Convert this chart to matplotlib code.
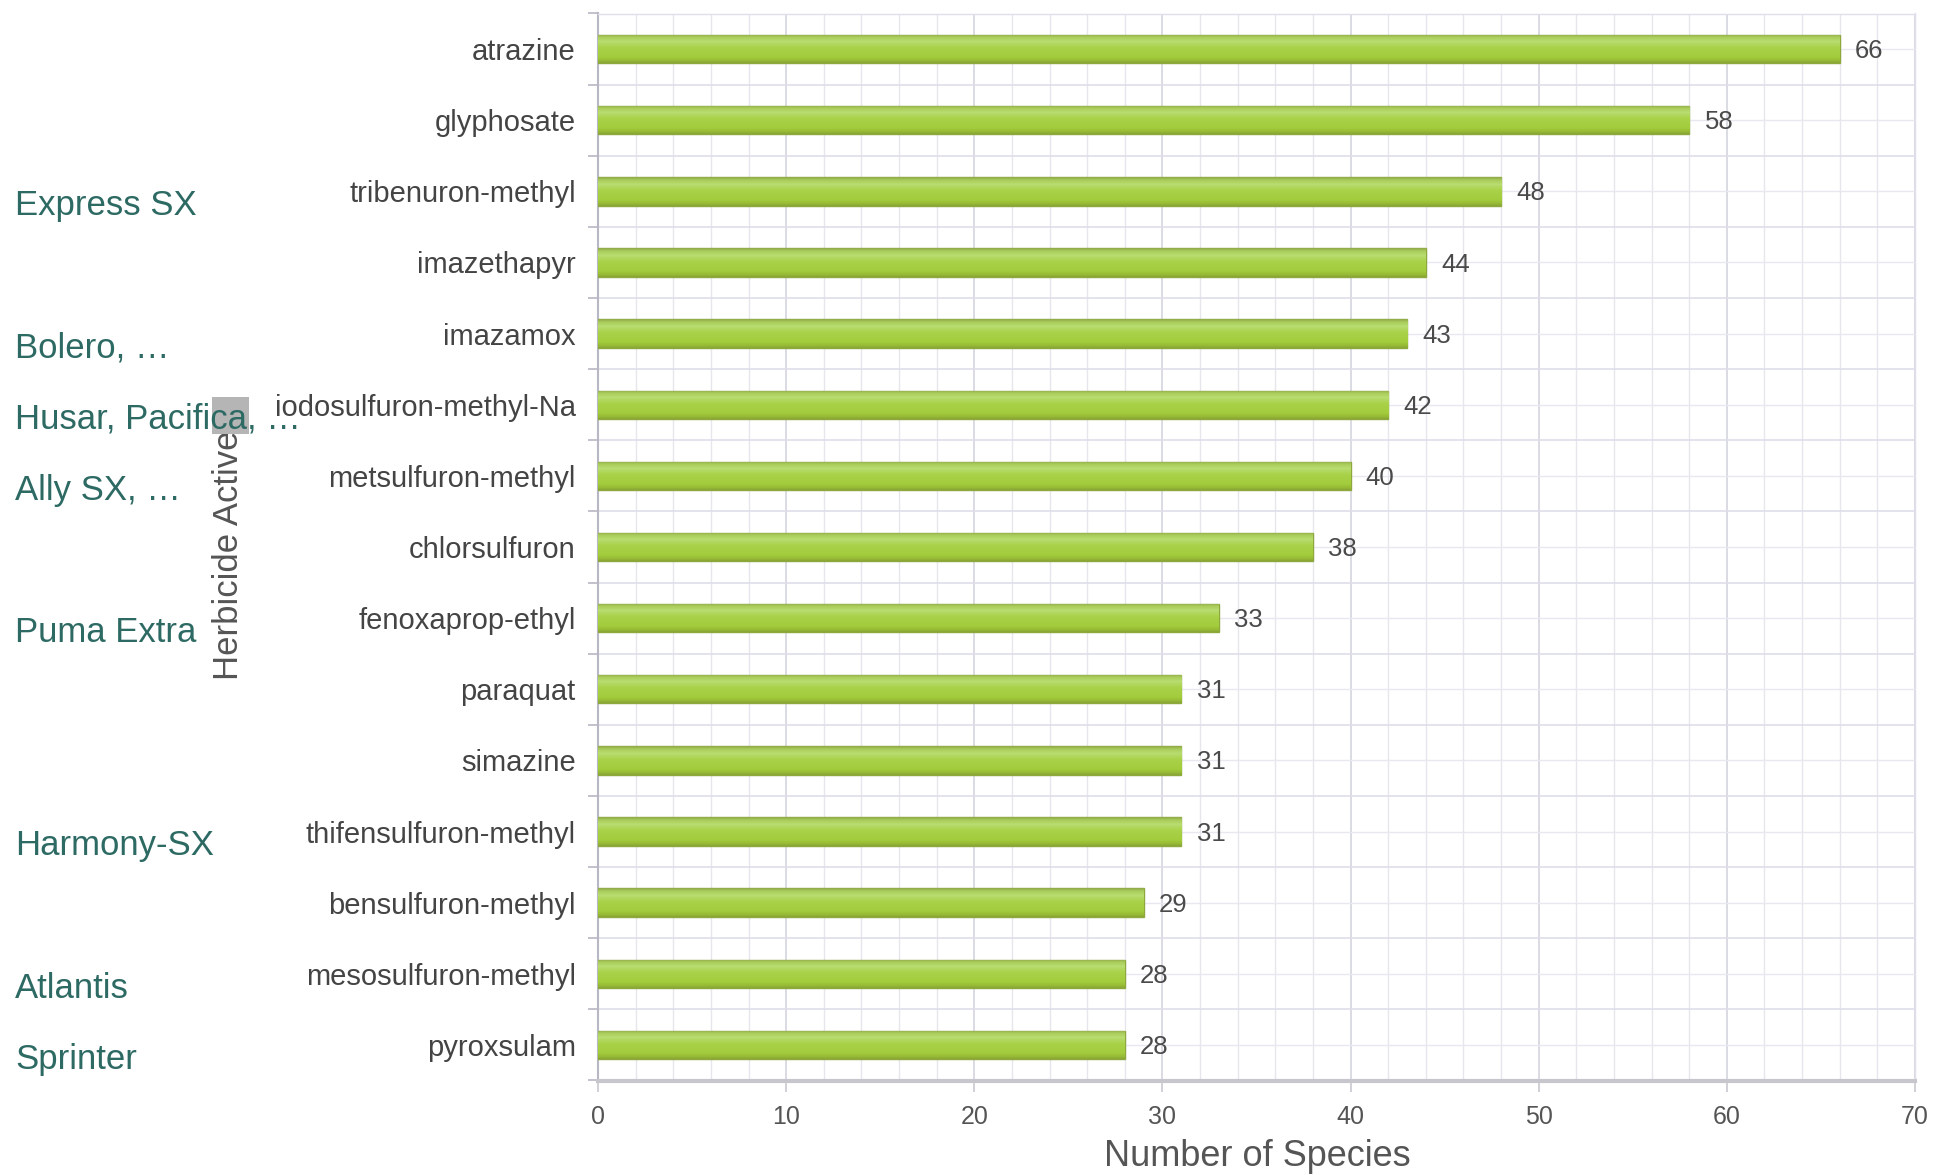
import matplotlib
matplotlib.use("Agg")
import matplotlib.pyplot as plt
import matplotlib.transforms as mtransforms
from matplotlib.colors import LinearSegmentedColormap
from matplotlib.patches import Rectangle
import numpy as np

plt.rcParams['font.family'] = ['Liberation Sans', 'DejaVu Sans']

# ---- data ----
herbicides = ["atrazine", "glyphosate", "tribenuron-methyl", "imazethapyr",
              "imazamox", "iodosulfuron-methyl-Na", "metsulfuron-methyl",
              "chlorsulfuron", "fenoxaprop-ethyl", "paraquat", "simazine",
              "thifensulfuron-methyl", "bensulfuron-methyl",
              "mesosulfuron-methyl", "pyroxsulam"]
species = [66, 58, 48, 44, 43, 42, 40, 38, 33, 31, 31, 31, 29, 28, 28]
x_ticks = [0, 10, 20, 30, 40, 50, 60, 70]

products = ["Express SX", "Bolero, \u2026", "Husar, Pacifica, \u2026", "Ally SX, \u2026",
            "Puma Extra", "Harmony-SX", "Atlantis", "Sprinter"]
product_for = ["tribenuron-methyl", "imazamox", "iodosulfuron-methyl-Na",
               "metsulfuron-methyl", "fenoxaprop-ethyl", "thifensulfuron-methyl",
               "mesosulfuron-methyl", "pyroxsulam"]

x_label = "Number of Species"
y_label = "Herbicide Active"

# ---- figure ----
W, H = 1935, 1175
fig = plt.figure(figsize=(W / 100, H / 100), dpi=100)
ax = fig.add_axes([598 / W, 1 - 1080.5 / H, (1915 - 598) / W, (1080.5 - 13.5) / H])

ypos = np.arange(len(herbicides))
bar_h = 0.4

grad_colors = [(0.00, "#90aa48"), (0.10, "#a9cc5a"), (0.25, "#badd72"),
               (0.45, "#aad24a"), (0.80, "#a2cc3c"), (0.92, "#97bb36"),
               (1.00, "#88a636")]
cmap = LinearSegmentedColormap.from_list("bargrad", grad_colors)
grad = np.linspace(0, 1, 64).reshape(-1, 1)

bars = ax.barh(ypos, species, height=bar_h, color="#a5ce42",
               edgecolor="#8ea83e", linewidth=1.0, zorder=3)
for b, yv, v in zip(bars, ypos, species):
    im = ax.imshow(grad, cmap=cmap, aspect="auto", origin="upper",
                   extent=(0, v, yv + bar_h / 2, yv - bar_h / 2),
                   zorder=3.5, interpolation="bilinear")
    im.set_clip_path(b)

for yv, v in zip(ypos, species):
    ax.annotate(str(v), xy=(v, yv), xytext=(11, -1.5), textcoords="offset points",
                ha="left", va="center", fontsize=18.5, color="#4a4a4a", zorder=5)

ax.set_xlim(0, 70)
ax.set_ylim(len(herbicides) - 0.5, -0.5)

# grid
ax.set_xticks(x_ticks)
ax.set_xticks(np.arange(0, 71, 2), minor=True)
ax.set_yticks(ypos)
ax.set_yticks(np.arange(-0.5, len(herbicides), 1.0), minor=True)
ax.set_yticklabels(herbicides, fontsize=21, color="#444444")
ax.set_xticklabels([str(t) for t in x_ticks], fontsize=18, color="#555555")
ax.set_axisbelow(True)
ax.grid(axis="x", which="minor", color="#e6e6ee", linewidth=1.0, zorder=0)
ax.grid(axis="x", which="major", color="#d3d4de", linewidth=1.2, zorder=0)
ax.grid(axis="y", which="major", color="#e8e8f0", linewidth=1.0, zorder=0)
ax.grid(axis="y", which="minor", color="#dedeea", linewidth=1.2, zorder=0)

ax.tick_params(axis="y", which="major", length=0, pad=16)
ax.tick_params(axis="y", which="minor", length=7, color="#b8b8c4", width=1.2)
ax.tick_params(axis="x", which="major", length=8, color="#c8c8d0", width=1.2, pad=10)
ax.tick_params(axis="x", which="minor", length=0)

for side in ["top", "right"]:
    ax.spines[side].set_color("#dfe0ec")
    ax.spines[side].set_linewidth(1.0)
ax.spines["left"].set_color("#b8b8c4")
ax.spines["left"].set_linewidth(1.5)
ax.spines["bottom"].set_color("#c6c6cc")
ax.spines["bottom"].set_linewidth(3.0)

fig.text(1257 / W, 1 - 1156 / H, x_label, ha="center", va="center",
         fontsize=26, color="#555555")
fig.text(228 / W, 1 - 555 / H, y_label, ha="center", va="center",
         rotation=90, fontsize=25, color="#555555")

# grey box over the label
fig.patches.append(Rectangle((212 / W, 1 - 434 / H), 37 / W, 37 / H,
                             transform=fig.transFigure, facecolor="#b5b5b5",
                             edgecolor="none", zorder=4))

# product names, aligned with their herbicide rows
trans = mtransforms.blended_transform_factory(fig.transFigure, ax.transData)
for name, herb in zip(products, product_for):
    row = herbicides.index(herb)
    fig.text(15 / W, row + 0.2, name, transform=trans, ha="left",
             va="center", fontsize=25, color="#2d6a63", zorder=6)

fig.savefig("out.png", dpi=100)
